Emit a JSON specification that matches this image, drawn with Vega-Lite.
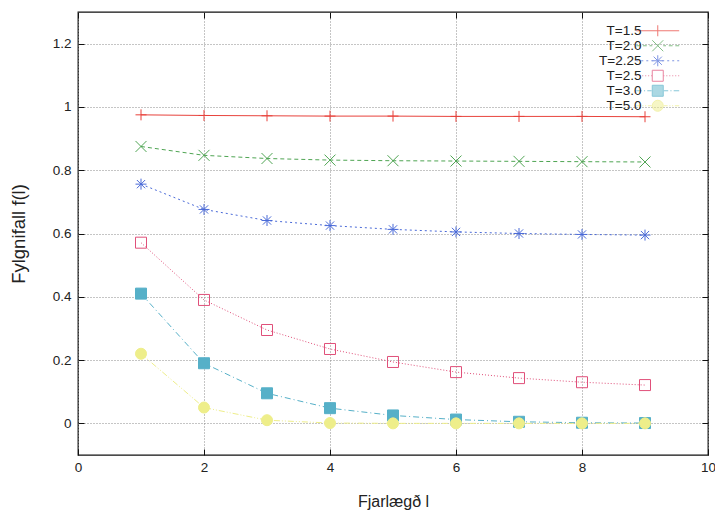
{
  "$schema": "https://vega.github.io/schema/vega-lite/v6.json",
  "autosize": "none",
  "width": 630,
  "height": 443,
  "padding": {"left": 78, "top": 12, "right": 7, "bottom": 55},
  "background": "white",
  "data": {
    "values": [
      {"T": "T=1.5", "l": 1, "f": 0.975},
      {"T": "T=1.5", "l": 2, "f": 0.973},
      {"T": "T=1.5", "l": 3, "f": 0.972},
      {"T": "T=1.5", "l": 4, "f": 0.971},
      {"T": "T=1.5", "l": 5, "f": 0.971},
      {"T": "T=1.5", "l": 6, "f": 0.970},
      {"T": "T=1.5", "l": 7, "f": 0.970},
      {"T": "T=1.5", "l": 8, "f": 0.970},
      {"T": "T=1.5", "l": 9, "f": 0.969},
      {"T": "T=2.0", "l": 1, "f": 0.875},
      {"T": "T=2.0", "l": 2, "f": 0.847},
      {"T": "T=2.0", "l": 3, "f": 0.837},
      {"T": "T=2.0", "l": 4, "f": 0.832},
      {"T": "T=2.0", "l": 5, "f": 0.830},
      {"T": "T=2.0", "l": 6, "f": 0.829},
      {"T": "T=2.0", "l": 7, "f": 0.828},
      {"T": "T=2.0", "l": 8, "f": 0.827},
      {"T": "T=2.0", "l": 9, "f": 0.826},
      {"T": "T=2.25", "l": 1, "f": 0.756},
      {"T": "T=2.25", "l": 2, "f": 0.676},
      {"T": "T=2.25", "l": 3, "f": 0.641},
      {"T": "T=2.25", "l": 4, "f": 0.625},
      {"T": "T=2.25", "l": 5, "f": 0.613},
      {"T": "T=2.25", "l": 6, "f": 0.605},
      {"T": "T=2.25", "l": 7, "f": 0.600},
      {"T": "T=2.25", "l": 8, "f": 0.597},
      {"T": "T=2.25", "l": 9, "f": 0.595},
      {"T": "T=2.5", "l": 1, "f": 0.571},
      {"T": "T=2.5", "l": 2, "f": 0.390},
      {"T": "T=2.5", "l": 3, "f": 0.295},
      {"T": "T=2.5", "l": 4, "f": 0.235},
      {"T": "T=2.5", "l": 5, "f": 0.194},
      {"T": "T=2.5", "l": 6, "f": 0.162},
      {"T": "T=2.5", "l": 7, "f": 0.143},
      {"T": "T=2.5", "l": 8, "f": 0.130},
      {"T": "T=2.5", "l": 9, "f": 0.121},
      {"T": "T=3.0", "l": 1, "f": 0.410},
      {"T": "T=3.0", "l": 2, "f": 0.190},
      {"T": "T=3.0", "l": 3, "f": 0.095},
      {"T": "T=3.0", "l": 4, "f": 0.048},
      {"T": "T=3.0", "l": 5, "f": 0.025},
      {"T": "T=3.0", "l": 6, "f": 0.012},
      {"T": "T=3.0", "l": 7, "f": 0.005},
      {"T": "T=3.0", "l": 8, "f": 0.002},
      {"T": "T=3.0", "l": 9, "f": 0.001},
      {"T": "T=5.0", "l": 1, "f": 0.220},
      {"T": "T=5.0", "l": 2, "f": 0.050},
      {"T": "T=5.0", "l": 3, "f": 0.010},
      {"T": "T=5.0", "l": 4, "f": 0.001},
      {"T": "T=5.0", "l": 5, "f": 0.0},
      {"T": "T=5.0", "l": 6, "f": 0.0},
      {"T": "T=5.0", "l": 7, "f": 0.0},
      {"T": "T=5.0", "l": 8, "f": 0.0},
      {"T": "T=5.0", "l": 9, "f": 0.0}
    ]
  },
  "layer": [
    {
      "mark": {"type": "line", "strokeWidth": 1, "clip": true},
      "encoding": {
        "x": {
          "field": "l", "type": "quantitative",
          "scale": {"domain": [0, 10], "nice": false, "zero": false},
          "axis": {
            "orient": "bottom", "title": "Fjarlægð l", "values": [0, 2, 4, 6, 8, 10],
            "format": "d", "tickSize": -6, "labelPadding": 11, "titlePadding": 20,
            "labelFlush": false, "titleFontSize": 16,
            "grid": true, "domain": false
          }
        },
        "y": {
          "field": "f", "type": "quantitative",
          "scale": {"domain": [-0.1, 1.3], "nice": false, "zero": false},
          "axis": {
            "orient": "left", "title": "Fylgnifall f(l)", "values": [0, 0.2, 0.4, 0.6, 0.8, 1, 1.2],
            "format": ".2~f", "tickSize": -6, "labelPadding": 13, "titlePadding": 24,
            "labelFlush": false, "titleFontSize": 18.5,
            "grid": true, "domain": false
          }
        },
        "detail": {"field": "T"},
        "stroke": {
          "field": "T", "type": "nominal", "legend": null,
          "scale": {
            "domain": ["T=1.5", "T=2.0", "T=2.25", "T=2.5", "T=3.0", "T=5.0"],
            "range": ["#e8403a", "#4fa553", "#4a6ad8", "#e0507a", "#56b0c8", "#eeee8a"]
          }
        },
        "strokeDash": {
          "field": "T", "type": "nominal", "legend": null,
          "scale": {
            "domain": ["T=1.5", "T=2.0", "T=2.25", "T=2.5", "T=3.0", "T=5.0"],
            "range": [[1, 0], [4, 3], [2, 3], [1, 2], [6, 3, 1, 3], [6, 2, 1, 2, 1, 2]]
          }
        }
      }
    },
    {
      "mark": {"type": "point", "size": 121, "strokeWidth": 1, "opacity": 1},
      "encoding": {
        "x": {
          "field": "l", "type": "quantitative",
          "axis": {"orient": "top", "title": null, "labels": false, "values": [0, 2, 4, 6, 8, 10], "tickSize": -6, "grid": false, "domain": false}
        },
        "y": {
          "field": "f", "type": "quantitative",
          "axis": {"orient": "right", "title": null, "labels": false, "values": [0, 0.2, 0.4, 0.6, 0.8, 1, 1.2], "tickSize": -6, "grid": false, "domain": false}
        },
        "shape": {
          "field": "T", "type": "nominal", "legend": null,
          "scale": {
            "domain": ["T=1.5", "T=2.0", "T=2.25", "T=2.5", "T=3.0", "T=5.0"],
            "range": [
              "M-1,0H1M0,-1V1",
              "M-1,-1L1,1M-1,1L1,-1",
              "M-1,0H1M0,-1V1M-0.75,-0.75L0.75,0.75M-0.75,0.75L0.75,-0.75",
              "M-1,-1H1V1H-1Z",
              "M-1,-1H1V1H-1Z",
              "circle"
            ]
          }
        },
        "stroke": {
          "field": "T", "type": "nominal", "legend": null,
          "scale": {
            "domain": ["T=1.5", "T=2.0", "T=2.25", "T=2.5", "T=3.0", "T=5.0"],
            "range": ["#e8403a", "#4fa553", "#4a6ad8", "#e0507a", "#56b0c8", "#eeee8a"]
          }
        },
        "fill": {
          "field": "T", "type": "nominal", "legend": null,
          "scale": {
            "domain": ["T=1.5", "T=2.0", "T=2.25", "T=2.5", "T=3.0", "T=5.0"],
            "range": ["transparent", "transparent", "transparent", "transparent", "#56b0c8", "#eeee8a"]
          }
        }
      }
    },
    {
      "transform": [{"filter": "false"}],
      "mark": {"type": "point", "size": 121, "strokeWidth": 1},
      "encoding": {
        "x": {"field": "l", "type": "quantitative", "axis": null},
        "y": {"field": "f", "type": "quantitative", "axis": null},
        "shape": {
          "field": "T", "type": "nominal",
          "scale": {
            "domain": ["T=1.5", "T=2.0", "T=2.25", "T=2.5", "T=3.0", "T=5.0"],
            "range": [
              "M-3.9,0H3.9M0,-1V1",
              "M-3.9,0H-3.2M-2.7,0H-2M-1.5,0H-1M1,0H1.5M2,0H2.7M3.2,0H3.9M-1,-1L1,1M-1,1L1,-1",
              "M-3.9,0H-3.54M-2.99,0H-2.63M-2.08,0H-1.72M-1.17,0H-0.81M0.81,0H1.17M1.72,0H2.08M2.63,0H2.99M3.54,0H3.9M-1,0H1M0,-1V1M-0.75,-0.75L0.75,0.75M-0.75,0.75L0.75,-0.75",
              "M-3.9,0H-3.72M-3.36,0H-3.18M-2.82,0H-2.64M-2.28,0H-2.1M-1.74,0H-1.56M-1.2,0H-1.02M1.02,0H1.2M1.56,0H1.74M2.1,0H2.28M2.64,0H2.82M3.18,0H3.36M3.72,0H3.9M-1,-1H1V1H-1Z",
              "M-3.9,0H-2.9M-2.5,0H-2.3M-1.9,0H-1.1M1.1,0H1.9M2.3,0H2.5M2.9,0H3.9M-1,-1H1V1H-1Z",
              "M-3.9,0H-3.1M-2.8,0H-2.6M-2.3,0H-2.1M-1.8,0H-1.1M1.1,0H1.8M2.1,0H2.3M2.6,0H2.8M3.1,0H3.9M1,0A1,1 0 1,1 -1,0A1,1 0 1,1 1,0Z"
            ]
          },
          "legend": {
            "title": null, "orient": "none", "legendX": 573, "legendY": 12,
            "labelAlign": "right", "labelOffset": -23,
            "symbolSize": 121, "symbolStrokeWidth": 1, "rowPadding": -4.5
          }
        },
        "stroke": {
          "field": "T", "type": "nominal",
          "scale": {
            "domain": ["T=1.5", "T=2.0", "T=2.25", "T=2.5", "T=3.0", "T=5.0"],
            "range": ["#e8403a", "#4fa553", "#4a6ad8", "#e0507a", "#56b0c8", "#eeee8a"]
          },
          "legend": {"title": null, "orient": "none", "legendX": 573, "legendY": 12}
        },
        "fill": {
          "field": "T", "type": "nominal",
          "scale": {
            "domain": ["T=1.5", "T=2.0", "T=2.25", "T=2.5", "T=3.0", "T=5.0"],
            "range": ["transparent", "transparent", "transparent", "transparent", "#56b0c8", "#eeee8a"]
          },
          "legend": {"title": null, "orient": "none", "legendX": 573, "legendY": 12}
        }
      }
    }
  ],
  "resolve": {
    "scale": {"shape": "independent", "stroke": "independent", "fill": "independent", "strokeDash": "independent"},
    "axis": {"x": "independent", "y": "independent"}
  },
  "config": {
    "view": {"stroke": "#111", "strokeWidth": 1.3},
    "font": "Liberation Sans",
    "axis": {
      "labelFont": "Liberation Sans", "labelFontSize": 13.5, "labelColor": "#222",
      "titleFont": "Liberation Sans", "titleFontSize": 16, "titleFontWeight": "normal", "titleColor": "#222",
      "tickColor": "#111", "tickWidth": 1,
      "gridColor": "#8a8a8a", "gridDash": [1, 2], "gridWidth": 1, "gridOpacity": 1
    },
    "legend": {
      "labelFont": "Liberation Sans", "labelFontSize": 13.5, "labelColor": "#222", "padding": 0
    }
  }
}
